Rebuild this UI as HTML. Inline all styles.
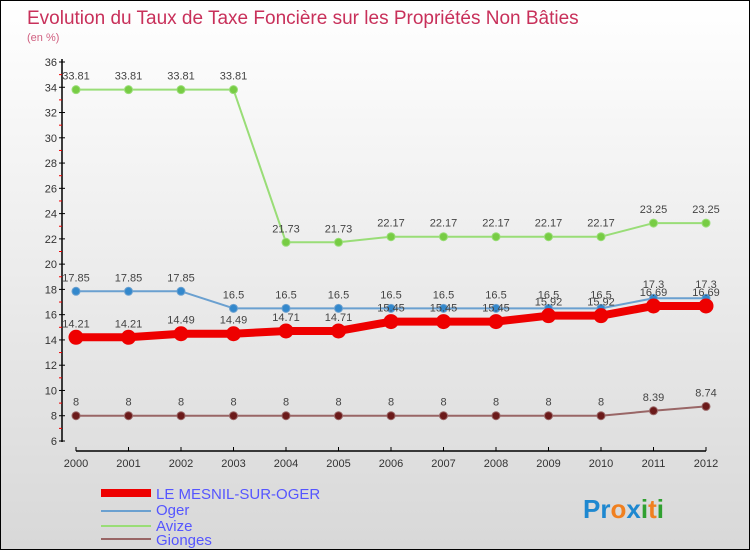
<!DOCTYPE html>
<html><head><meta charset="utf-8"><style>
body{margin:0}
#c{width:750px;height:550px;position:relative;background:linear-gradient(#ffffff,#d8d8d8);border:1px solid #000;box-sizing:border-box;overflow:hidden;font-family:"Liberation Sans",sans-serif}
text{font-family:"Liberation Sans",sans-serif}
</style></head><body>
<div id="c">
<svg id="s" width="750" height="550">
<text x="26" y="23" font-size="19" fill="#c8305a">Evolution du Taux de Taxe Foncière sur les Propriétés Non Bâties</text>
<text x="26" y="40" font-size="11" fill="#d06080">(en %)</text>
<g id="plot"></g>
<g>
<line x1="100" y1="492" x2="150" y2="492" stroke="#e00" stroke-width="8"/>
<text x="155" y="498" font-size="15" fill="#5555ff">LE MESNIL-SUR-OGER</text>
<line x1="100" y1="510" x2="150" y2="510" stroke="#6aa0d0" stroke-width="2"/>
<text x="155" y="514" font-size="15" fill="#5555ff">Oger</text>
<line x1="100" y1="525" x2="150" y2="525" stroke="#99dd77" stroke-width="2"/>
<text x="155" y="530" font-size="15" fill="#5555ff">Avize</text>
<line x1="100" y1="538" x2="150" y2="538" stroke="#996666" stroke-width="2"/>
<text x="155" y="544" font-size="15" fill="#5555ff">Gionges</text>
</g>
<text x="582" y="517" font-size="26" font-weight="bold"><tspan fill="#1e88d0">Pr</tspan><tspan fill="#f08020">o</tspan><tspan fill="#1e88d0">x</tspan><tspan fill="#30a030">i</tspan><tspan fill="#f08020">t</tspan><tspan fill="#30a030">i</tspan></text>
</svg></div>
<script>
const years=["2000","2001","2002","2003","2004","2005","2006","2007","2008","2009","2010","2011","2012"];
const mesnil=[14.21,14.21,14.49,14.49,14.71,14.71,15.45,15.45,15.45,15.92,15.92,16.69,16.69];
const oger=[17.85,17.85,17.85,16.5,16.5,16.5,16.5,16.5,16.5,16.5,16.5,17.3,17.3];
const avize=[33.81,33.81,33.81,33.81,21.73,21.73,22.17,22.17,22.17,22.17,22.17,23.25,23.25];
const gionges=[8,8,8,8,8,8,8,8,8,8,8,8.39,8.74];
const yTicks=[6,8,10,12,14,16,18,20,22,24,26,28,30,32,34,36];
const NS="http://www.w3.org/2000/svg";
const g=document.getElementById('plot');
const X=i=>75+i*52.5;
const Y=v=>440-(v-6)*(379/30);
function mk(t,a,p){const e=document.createElementNS(NS,t);for(const k in a)e.setAttribute(k,a[k]);(p||g).appendChild(e);return e;}
let ax=mk('line',{x1:61,y1:58,x2:61,y2:441,stroke:'#000','stroke-width':1.5});


let xa=mk('line',{x1:75,y1:450,x2:705,y2:450,stroke:'#000','stroke-width':1.5});


yTicks.forEach(v=>{
 mk('line',{x1:58,y1:Y(v),x2:64,y2:Y(v),stroke:'#000'});
 if(v<36)mk('line',{x1:58,y1:Y(v+1),x2:61,y2:Y(v+1),stroke:'#e00'});
 const t=mk('text',{x:56,y:Y(v)+4,'text-anchor':'end','font-size':11,fill:'#333'});t.textContent=v;
 
 
});
years.forEach((y,i)=>{
 mk('line',{x1:X(i),y1:446,x2:X(i),y2:450,stroke:'#000'});
 const t=mk('text',{x:X(i),y:466,'text-anchor':'middle','font-size':11,fill:'#333'});t.textContent=y;
 
 
});
function series(d,name,col,w,r,fill){
 const sg=mk('g',{});
 
 
 const pl=mk('polyline',{points:d.map((v,i)=>X(i)+','+Y(v)).join(' '),fill:'none',stroke:col,'stroke-width':w,'stroke-linejoin':'round'},sg);
 
 
 d.forEach((v,i)=>{
  const c=mk('circle',{cx:X(i),cy:Y(v),r:r,fill:fill,stroke:col,'stroke-width':1},sg);
  
  
  const t=mk('text',{x:X(i),y:Y(v)-10,'text-anchor':'middle','font-size':11,fill:'#444'},sg);t.textContent=v;
  
  
 });
}
series(gionges,'gionges','#996666',2,4,'#6b1a1a');
series(avize,'avize','#99dd77',2,4,'#77cc44');
series(oger,'oger','#6aa0d0',2,4,'#3388cc');
series(mesnil,'mesnil','#ee0000',8,7,'#ee0000');
</script>
</body></html>
